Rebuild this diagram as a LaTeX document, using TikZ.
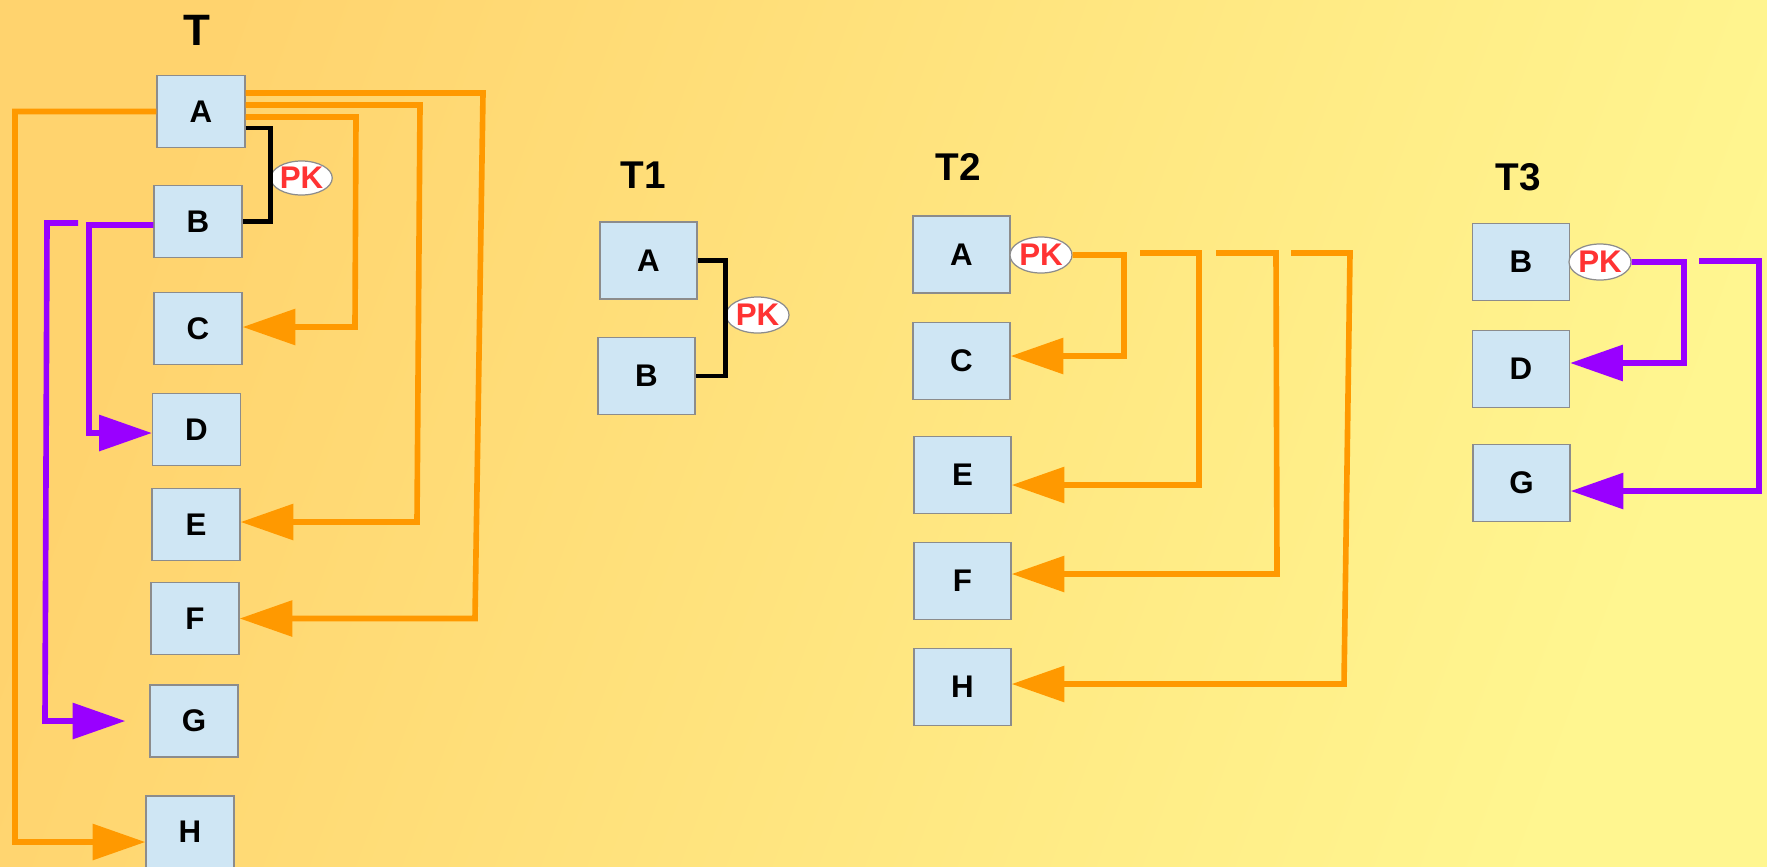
\documentclass[tikz,border=0pt]{standalone}
\usepackage{fontspec}
\setmainfont{Liberation Sans}
\usetikzlibrary{arrows.meta,shapes.geometric}

\definecolor{bgtop}{HTML}{FFD36E}
\definecolor{bgbot}{HTML}{FFF690}
\definecolor{boxfill}{HTML}{CFE6F4}
\definecolor{boxedge}{HTML}{8C8C8C}
\definecolor{fkorange}{HTML}{FF9900}
\definecolor{fkpurple}{HTML}{9900FF}
\definecolor{pkred}{HTML}{FF3333}

\tikzset{
  col/.style={draw=boxedge, line width=0.35pt, fill=boxfill, inner sep=0pt,
    minimum width=0.88cm, minimum height=0.72cm,
    font=\fontsize{8.9}{10}\selectfont\bfseries},
  colw/.style={col, minimum width=0.97cm, minimum height=0.77cm},
  pk/.style={ellipse, draw=boxedge, line width=0.35pt, fill=white, inner sep=0pt,
    minimum width=0.62cm, minimum height=0.36cm, text=pkred,
    font=\fontsize{8.9}{10}\selectfont\bfseries},
  tabtitle/.style={font=\fontsize{11}{13}\selectfont\bfseries},
  keyline/.style={draw=black, line width=1.4pt, line join=miter},
  oline/.style={draw=fkorange, line width=1.6pt, line join=miter,
    -{Triangle[length=15pt,width=10pt]}},
  pline/.style={draw=fkpurple, line width=1.6pt, line join=miter,
    -{Triangle[length=15pt,width=10pt]}},
}

\begin{document}
\begin{tikzpicture}[x=0.01cm,y=-0.01cm]
  % background
  \shade[top color=bgtop, bottom color=bgbot, shading angle=70]
    (0,0) rectangle (1767,866);
  \useasboundingbox (0,0) rectangle (1767,866);

  % ---------------- table T ----------------
  \node[tabtitle, font=\fontsize{12.5}{14}\selectfont\bfseries] (Tt) at (197,30) {T};
  \node[col] (TA) at (201,111.5) {A};
  \node[col] (TB) at (198,221.5) {B};
  \node[col] (TC) at (198,328.5) {C};
  \node[col] (TD) at (196.5,429.5) {D};
  \node[col] (TE) at (196,524.5) {E};
  \node[col] (TF) at (195,618.5) {F};
  \node[col] (TG) at (194,721) {G};
  \node[col] (TH) at (190,832) {H};
  \node[pk, minimum width=0.57cm, minimum height=0.34cm] (TPK) at (301.5,178) {PK};

  \draw[keyline] ([yshift=-0.165cm]TA.east) -- ([yshift=-0.165cm]TA.east -| TPK.west)
    -- (TB.east -| TPK.west) -- (TB.east);

  \coordinate (o1t) at (483,93);   \coordinate (o1b) at (475,618.5);
  \coordinate (o2t) at (420,105);  \coordinate (o2b) at (417,522);
  \coordinate (o3t) at (356,117);  \coordinate (o3b) at (355,327);
  \coordinate (o4t) at (15,111.5); \coordinate (o4b) at (15,842);
  \draw[oline] ([yshift=0.185cm]TA.east) -- (o1t) -- (o1b) -- (TF.east);
  \draw[oline] ([yshift=0.065cm]TA.east) -- (o2t) -- (o2b) -- ([yshift=0.025cm]TE.east);
  \draw[oline] ([yshift=-0.055cm]TA.east) -- (o3t) -- (o3b) -- ([yshift=0.015cm]TC.east);
  \draw[oline] (TA.west) -- (o4t) -- (o4b) -- ([yshift=-0.1cm]TH.west);

  \coordinate (p1t) at (89,225);   \coordinate (p1b) at (89,433);
  \coordinate (p2s) at (78,223);   \coordinate (p2t) at (47,223);
  \coordinate (p2b) at (45,721);
  \draw[pline] ([yshift=-0.035cm]TB.west) -- (p1t) -- (p1b) -- ([yshift=-0.035cm]TD.west);
  \draw[pline] (p2s) -- (p2t) -- (p2b) -- ([xshift=-0.24cm]TG.west);

  % ---------------- table T1 ----------------
  \node[tabtitle] (T1t) at (643,175) {T1};
  \node[colw] (A1) at (648.5,260.5) {A};
  \node[colw] (B1) at (646.5,376) {B};
  \node[pk, minimum width=0.63cm] (PK1) at (757.5,315) {PK};
  \draw[keyline] (A1.east) -- (A1.east -| PK1.west) -- (B1.east -| PK1.west) -- (B1.east);

  % ---------------- table T2 ----------------
  \node[tabtitle] (T2t) at (958,167) {T2};
  \node[colw] (A2) at (961.5,254.5) {A};
  \node[colw] (C2) at (961.5,361) {C};
  \node[colw] (E2) at (962.5,475) {E};
  \node[colw] (F2) at (962.5,581) {F};
  \node[colw] (H2) at (962.5,687) {H};
  \node[pk] (PK2) at (1041,255) {PK};

  \coordinate (q1t) at (1124,255);  \coordinate (q1b) at (1124,356);
  \coordinate (q2s) at (1140,253);  \coordinate (q2t) at (1199,253);  \coordinate (q2b) at (1199,485);
  \coordinate (q3s) at (1216,253);  \coordinate (q3t) at (1276,253);  \coordinate (q3b) at (1277,574);
  \coordinate (q4s) at (1291,253);  \coordinate (q4t) at (1350,253);  \coordinate (q4b) at (1344,684);
  \draw[oline] (PK2.east) -- (q1t) -- (q1b) -- ([yshift=0.05cm]C2.east);
  \draw[oline] (q2s) -- (q2t) -- (q2b) -- ([yshift=-0.1cm]E2.east);
  \draw[oline] (q3s) -- (q3t) -- (q3b) -- ([yshift=0.07cm]F2.east);
  \draw[oline] (q4s) -- (q4t) -- (q4b) -- ([yshift=0.03cm]H2.east);

  % ---------------- table T3 ----------------
  \node[tabtitle] (T3t) at (1518,177) {T3};
  \node[colw] (B3) at (1521,262) {B};
  \node[colw] (D3) at (1521,369) {D};
  \node[colw] (G3) at (1521.5,483) {G};
  \node[pk] (PK3) at (1600,262) {PK};

  \coordinate (r1t) at (1684,262);  \coordinate (r1b) at (1684,363);
  \coordinate (r2s) at (1699,261);  \coordinate (r2t) at (1759,261);  \coordinate (r2b) at (1759,491);
  \draw[pline] (PK3.east) -- (r1t) -- (r1b) -- ([yshift=0.06cm]D3.east);
  \draw[pline] (r2s) -- (r2t) -- (r2b) -- ([yshift=-0.08cm]G3.east);
\end{tikzpicture}
\end{document}
